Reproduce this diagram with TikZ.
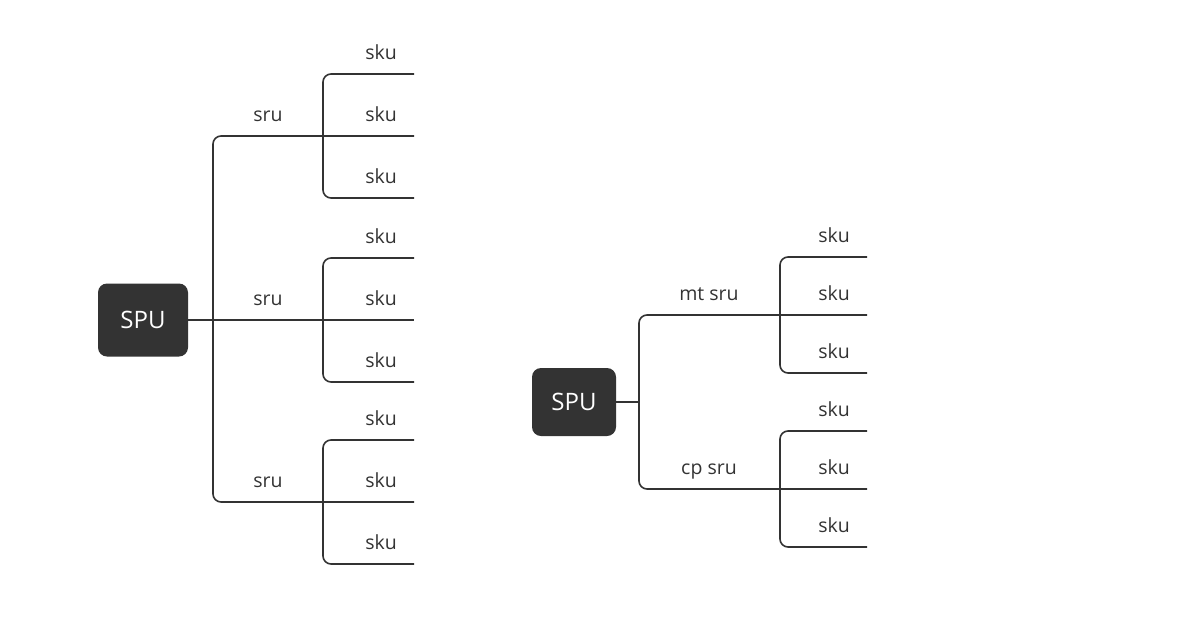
\documentclass[tikz,border=0pt]{standalone}
\usepackage{fontspec}
\setmainfont{Open Sans}
\definecolor{ink}{HTML}{333333}
\begin{document}
\begin{tikzpicture}[x=1pt,y=-1pt,
		spu/.style={fill=ink, text=white, rounded corners=9pt, minimum width=90pt, minimum height=73pt, font=\fontsize{24}{24}\selectfont},
		lbl/.style={anchor=base, inner sep=0pt, text=ink, font=\fontsize{19.5}{20}\selectfont},
		link/.style={draw=ink, line width=1.6pt, rounded corners=8pt}]
		\useasboundingbox (0,0) rectangle (1204,632);

		% left tree
		\node[spu] (spuL) at (143,320) {SPU};
		\coordinate (trunkL) at (213,320);
		\foreach \i/\y in {1/136,2/320,3/502} {
			\coordinate (sruL\i) at (323,\y);
			\node[lbl] (sruLt\i) at (268,{\y-15}) {sru};
			\foreach \j/\dy in {a/-62,b/0,c/62} {
				\coordinate (skuL\i\j) at (414,{\y+\dy});
				\node[lbl] (skuLt\i\j) at (381,{\y+\dy-15}) {sku};
			}
			\draw[link] (skuL\i a) -| (sruL\i) |- (skuL\i c);
		}
		\draw[link] (skuL1b) -| (trunkL) |- (skuL3b);
		\draw[link] (spuL.east) -- (skuL2b);

		% right tree
		\node[spu, minimum width=84pt, minimum height=68pt] (spuR) at (574,402) {SPU};
		\coordinate (trunkR) at (639,402);
		\draw[link] (spuR.east) -- (trunkR);
		\foreach \i/\y/\t in {1/315/mt sru,2/489/cp sru} {
			\coordinate (sruR\i) at (780,\y);
			\node[lbl] (sruRt\i) at (709,{\y-15}) {\t};
			\draw[link] (trunkR) |- (sruR\i) -- (867,\y);
			\foreach \j/\dy in {a/-58,b/0,c/58} {
				\coordinate (skuR\i\j) at (867,{\y+\dy});
				\node[lbl] (skuRt\i\j) at (834,{\y+\dy-15}) {sku};
			}
			\draw[link] (skuR\i a) -| (sruR\i) |- (skuR\i c);
		}
	\end{tikzpicture}
\end{document}
